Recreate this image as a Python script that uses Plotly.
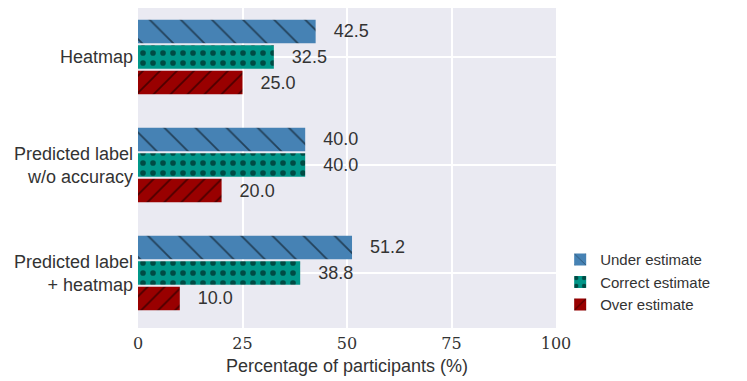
import plotly.graph_objects as go

conditions = ["Heatmap", "Predicted label<br>w/o accuracy", "Predicted label<br>+ heatmap"]
under = [42.5, 40.0, 51.2]
correct = [32.5, 40.0, 38.8]
over = [25.0, 20.0, 10.0]

series = [
    ("Under estimate", under, "#4682B4", "\\", 22, 0.08),
    ("Correct estimate", correct, "#009688", ".", 10, 0.25),
    ("Over estimate", over, "#990000", "/", 12, 0.14),
]

fig = go.Figure()
for name, vals, col, shape, psize, solid in series:
    fig.add_trace(go.Bar(
        y=conditions, x=vals, name=name, orientation="h",
        marker=dict(color=col, line=dict(width=0),
                    pattern=dict(shape=shape, fgcolor="black", size=psize, solidity=solid)),
        text=[f"{v:.1f}" for v in vals],
        texttemplate="   %{text}",
        textposition="outside",
        textfont=dict(size=18, color="#333333", family="Liberation Sans"),
        cliponaxis=False,
    ))

# page has an 8px body margin, so the figure is a bit smaller than the window
fig.update_layout(
    width=739, height=373,
    margin=dict(l=130, r=191, t=0, b=53),
    barmode="group", bargap=0.29, bargroupgap=0.08,
    plot_bgcolor="#EAEAF2", paper_bgcolor="white",
    font=dict(family="Liberation Sans", color="#333333"),
    legend=dict(x=1.01, y=0.265, xanchor="left", yanchor="top",
                font=dict(size=15, color="#333333"), bgcolor="rgba(0,0,0,0)"),
    xaxis=dict(range=[0, 100], tickvals=[0, 25, 50, 75, 100], automargin=False,
               showgrid=True, gridcolor="white", gridwidth=1.5, zeroline=False,
               tickfont=dict(family="DejaVu Serif", size=16, color="#333333"),
               ticklabelstandoff=4,
               title=dict(text="Percentage of participants (%)", font=dict(size=18), standoff=7)),
    yaxis=dict(range=[2.51, -0.454], showgrid=True, gridcolor="white", gridwidth=1.5,
               automargin=False,
               tickfont=dict(size=18, color="#333333"), ticklabelstandoff=4),
)

fig.write_html("out.html")
